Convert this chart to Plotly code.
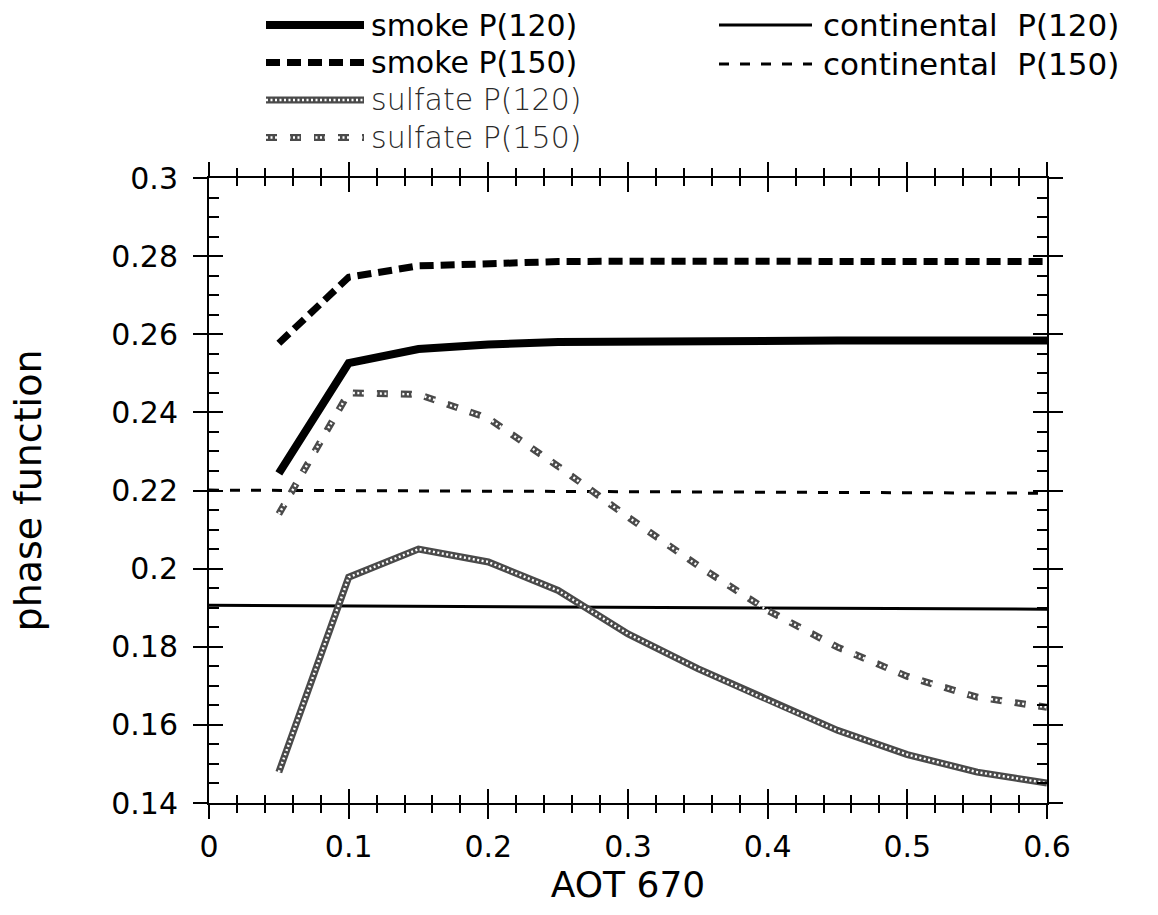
import plotly.graph_objects as go

# ---- data -----------------------------------------------------------------
aot = [0.05, 0.10, 0.15, 0.20, 0.25, 0.30, 0.35, 0.40, 0.45, 0.50, 0.55, 0.60]

smoke_p120 = [0.2244, 0.2526, 0.2562, 0.2574, 0.2580, 0.2582, 0.2583, 0.2584,
              0.2584, 0.2584, 0.2584, 0.2584]
smoke_p150 = [0.2577, 0.2746, 0.2775, 0.2782, 0.2786, 0.2787, 0.2787, 0.2787,
              0.2786, 0.2786, 0.2786, 0.2786]
sulfate_p120 = [0.1479, 0.1978, 0.2050, 0.2017, 0.1944, 0.1833, 0.1744, 0.1663,
                0.1586, 0.1524, 0.1479, 0.1451]
sulfate_p150 = [0.2140, 0.2450, 0.2446, 0.2385, 0.2262, 0.2132, 0.2008, 0.1893,
                0.1799, 0.1724, 0.1671, 0.1645]

continental_aot = [0.0, 0.6]
continental_p120 = [0.1906, 0.1896]
continental_p150 = [0.2201, 0.2193]

x_ticks = [0, 0.1, 0.2, 0.3, 0.4, 0.5, 0.6]
x_tick_labels = ["0", "0.1", "0.2", "0.3", "0.4", "0.5", "0.6"]
y_ticks = [0.14, 0.16, 0.18, 0.20, 0.22, 0.24, 0.26, 0.28, 0.30]
y_tick_labels = ["0.14", "0.16", "0.18", "0.2", "0.22", "0.24", "0.26", "0.28", "0.3"]

# ---- layout geometry (pixels) ----------------------------------------------
W, H = 1158, 915
ML, MR, MT, MB = 209, 111, 178, 112
PW, PH = W - ML - MR, H - MT - MB

FONT = "DejaVu Sans"
BEAD = "#4a4a4a"

# line styles per series
styles = {
    "smoke P(120)": dict(color="black", width=8, dash="solid"),
    "smoke P(150)": dict(color="black", width=7, dash="14px,7px"),
    "sulfate P(120)": dict(color=BEAD, width=7, dash="solid"),
    "sulfate P(150)": dict(color=BEAD, width=7, dash="11px,13px"),
    "continental P(120)": dict(color="black", width=3, dash="solid"),
    "continental P(150)": dict(color="black", width=3, dash="10px,11px"),
}
# sulfate curves get a white dotted core, giving a chain-of-beads texture
beaded = {"sulfate P(120)", "sulfate P(150)"}
BEAD_OVERLAY = dict(color="white", width=2.4, dash="2px,2.5px")

series = [
    ("continental P(120)", continental_aot, continental_p120),
    ("continental P(150)", continental_aot, continental_p150),
    ("sulfate P(120)", aot, sulfate_p120),
    ("sulfate P(150)", aot, sulfate_p150),
    ("smoke P(120)", aot, smoke_p120),
    ("smoke P(150)", aot, smoke_p150),
]

fig = go.Figure()
for name, xs, ys in series:
    fig.add_trace(go.Scatter(x=xs, y=ys, mode="lines", name=name,
                             line=styles[name], showlegend=False))
    if name in beaded:
        fig.add_trace(go.Scatter(x=xs, y=ys, mode="lines", name=name,
                                 line=BEAD_OVERLAY, showlegend=False,
                                 hoverinfo="skip"))

# empty trace to activate the overlaid axis pair carrying the inner ticks
fig.add_trace(go.Scatter(x=[], y=[], xaxis="x2", yaxis="y2", showlegend=False))

# ---- legend keys drawn above the plot --------------------------------------
def px_x(p):
    return (p - ML) / PW


def px_y(p):
    return (H - MB - p) / PH


legend_left = ["smoke P(120)", "smoke P(150)", "sulfate P(120)", "sulfate P(150)"]
legend_right = ["continental P(120)", "continental P(150)"]
text_style = {
    "smoke P(120)": dict(color="black", weight=500, size=30),
    "smoke P(150)": dict(color="black", weight=500, size=30),
    "sulfate P(120)": dict(color="#2a2a2a", weight=300, size=30),
    "sulfate P(150)": dict(color="#2a2a2a", weight=300, size=30),
    "continental P(120)": dict(color="black", weight=400, size=31),
    "continental P(150)": dict(color="black", weight=400, size=31),
}

shapes, annotations = [], []


def add_key(name, x0, x1, xt, yrow):
    shapes.append(dict(type="line", xref="paper", yref="paper",
                       x0=px_x(x0), x1=px_x(x1), y0=px_y(yrow), y1=px_y(yrow),
                       line=styles[name]))
    if name in beaded:
        shapes.append(dict(type="line", xref="paper", yref="paper",
                           x0=px_x(x0), x1=px_x(x1), y0=px_y(yrow), y1=px_y(yrow),
                           line=BEAD_OVERLAY))
    label = name.replace(" ", "\u00a0\u00a0") if name.startswith("continental") else name
    annotations.append(dict(xref="paper", yref="paper", x=px_x(xt), y=px_y(yrow),
                            xanchor="left", yanchor="middle", showarrow=False,
                            text=label, borderpad=0,
                            font=dict(family=FONT, **text_style[name])))


ROW_GAP = 37.5
for i, name in enumerate(legend_left):
    add_key(name, 266, 364, 370, 25 + i * ROW_GAP)
for i, name in enumerate(legend_right):
    add_key(name, 719, 812, 822, 25 + i * 39)

axis_common = dict(showline=True, linecolor="black", linewidth=2,
                   showgrid=False, zeroline=False, tickcolor="black",
                   tickwidth=2)

fig.update_layout(
    width=W, height=H,
    margin=dict(l=ML, r=MR, t=MT, b=MB),
    paper_bgcolor="white", plot_bgcolor="white",
    showlegend=False,
    shapes=shapes, annotations=annotations,
    xaxis=dict(range=[0, 0.6], tickvals=x_ticks, ticktext=x_tick_labels,
               ticks="outside", ticklen=14, mirror="allticks",
               minor=dict(dtick=0.02, ticks="outside", ticklen=8,
                          tickwidth=1.5, tickcolor="black"),
               tickfont=dict(family=FONT, size=30, color="black"),
               ticklabelstandoff=2,
               title=dict(text="AOT 670", standoff=0,
                          font=dict(family=FONT, size=36, color="black")),
               **axis_common),
    yaxis=dict(range=[0.14, 0.3], tickvals=y_ticks, ticktext=y_tick_labels,
               ticks="outside", ticklen=14, mirror="allticks",
               tickfont=dict(family=FONT, size=30, color="black"),
               ticklabelstandoff=9,
               title=dict(text="phase function", standoff=58,
                          font=dict(family=FONT, size=38, color="black")),
               **axis_common),
    xaxis2=dict(range=[0, 0.6], overlaying="x", anchor="y2", side="bottom",
                tickvals=x_ticks, showticklabels=False,
                ticks="inside", ticklen=14, mirror="allticks",
                minor=dict(dtick=0.02, ticks="inside", ticklen=8,
                           tickwidth=1.5, tickcolor="black"),
                **axis_common),
    yaxis2=dict(range=[0.14, 0.3], overlaying="y", anchor="x2", side="left",
                tickvals=y_ticks, showticklabels=False,
                ticks="inside", ticklen=14, mirror="allticks",
                minor=dict(dtick=0.005, ticks="inside", ticklen=10,
                           tickwidth=1.5, tickcolor="black"),
                **axis_common),
)

fig.write_html("out.html")
